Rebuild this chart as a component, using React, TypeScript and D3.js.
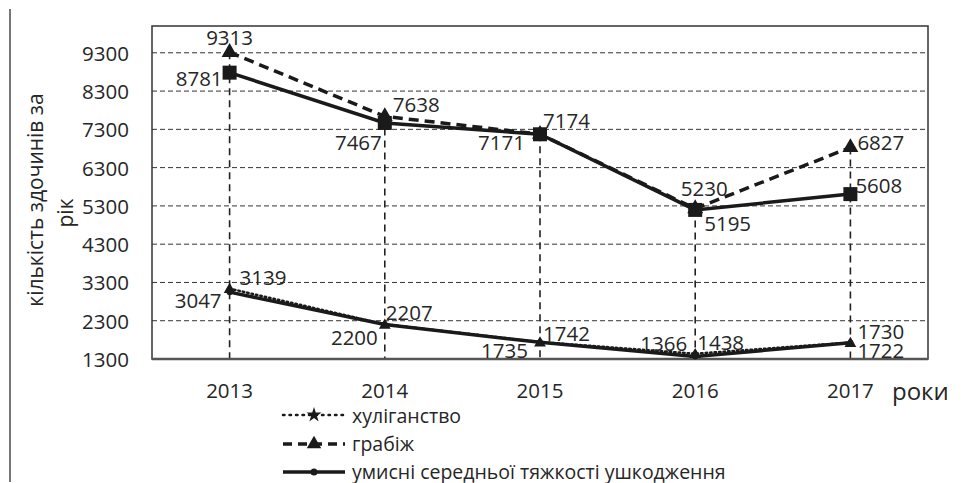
import React from "react";
import * as d3 from "d3";

const years = ["2013", "2014", "2015", "2016", "2017"];
const robbery = [9313, 7638, 7174, 5230, 6827];
const upperSolid = [8781, 7467, 7171, 5195, 5608];
const hooliganism = [3139, 2207, 1742, 1438, 1730];
const injuries = [3047, 2200, 1735, 1366, 1722];
const yTicks = [1300, 2300, 3300, 4300, 5300, 6300, 7300, 8300, 9300];
const legendNames = ["хуліганство", "грабіж", "умисні середньої тяжкості ушкодження"];

// label placement offsets [dx, dy, anchor]
const robberyLbl: [number, number, string][] = [[0, -15, "middle"], [8, -12, "start"], [3, -14, "start"], [9, -21, "middle"], [7, -5, "start"]];
const upperLbl: [number, number, string][] = [[-7, 5, "end"], [-3, 19, "end"], [-15, 8, "end"], [9, 13, "start"], [5, -9, "start"]];
const hoolLbl: [number, number, string][] = [[10, -12, "start"], [1, -12, "start"], [3, -9, "start"], [2, -12, "start"], [7, -12, "start"]];
const injLbl: [number, number, string][] = [[-8, 8, "end"], [-7, 12, "end"], [-12, 8, "end"], [-8, -13, "end"], [7, 7, "start"]];

const W = 970, H = 483;
const FONT = "'Open Sans', sans-serif";
const TXT = "#262626";
const INK = "#1a1a1a";
const FS = 20.5;

export default function App() {
  const left = 152, right = 928, top = 26, bottom = 359;
  const x = d3.scaleBand().domain(years).range([left, right]);
  const cx = (y: string) => (x(y) as number) + x.bandwidth() / 2;
  const y = d3.scaleLinear().domain([1300, 10000]).range([bottom, top]);
  const line = d3.line<number>().x((_, i) => cx(years[i])).y((d) => y(d));

  const tri = d3.symbol().type(d3.symbolTriangle);
  const star = d3.symbol().type(d3.symbolStar);

  const labels = (vals: number[], pl: [number, number, string][], key: string) =>
    vals.map((v, i) => (
      <text key={key + i} x={cx(years[i]) + pl[i][0]} y={y(v) + pl[i][1]} textAnchor={pl[i][2] as any}
        dominantBaseline="central" fontSize={FS} fill={TXT} fontFamily={FONT}>{v}</text>
    ));

  const maxes = years.map((_, i) => Math.max(robbery[i], upperSolid[i], hooliganism[i], injuries[i]));

  return (
    <svg width={W} height={H} style={{ position: "absolute", left: 0, top: 0, background: "#fff" }}>
      <line x1={10} x2={10} y1={9} y2={482} stroke="#777" strokeWidth={2} />
      {/* horizontal grid */}
      {yTicks.slice(1).map((t) => (
        <line key={"g" + t} x1={left} x2={right} y1={y(t)} y2={y(t)} stroke="#333" strokeWidth={1} strokeDasharray="5,3" />
      ))}
      {/* drop lines */}
      {years.map((yr, i) => (
        <line key={"d" + yr} x1={cx(yr)} x2={cx(yr)} y1={y(maxes[i])} y2={bottom} stroke="#222" strokeWidth={1.6} strokeDasharray="7,5" />
      ))}
      {/* plot border */}
      <rect x={left} y={top} width={right - left} height={bottom - top} fill="none" stroke="#333" strokeWidth={1.5} />
      <line x1={left} x2={right} y1={bottom} y2={bottom} stroke="#555" strokeWidth={2.5} />
      {/* y ticks */}
      {yTicks.map((t) => (
        <text key={"t" + t} x={129} y={y(t)} textAnchor="end" dominantBaseline="central" fontSize={FS} fill={TXT} fontFamily={FONT}>{t}</text>
      ))}
      {/* x labels */}
      {years.map((yr) => (
        <text key={"x" + yr} x={cx(yr)} y={390} textAnchor="middle" dominantBaseline="central" fontSize={FS} fill={TXT} fontFamily={FONT}>{yr}</text>
      ))}
      <text x={892} y={390} dominantBaseline="central" fontSize={24} fill={TXT} fontFamily={FONT}>роки</text>
      {/* y title */}
      <text transform={`translate(35,200) rotate(-90)`} textAnchor="middle" dominantBaseline="central" fontSize={21} fill={TXT} fontFamily={FONT}>кількість здочинів за</text>
      <text transform={`translate(65,213) rotate(-90)`} textAnchor="middle" dominantBaseline="central" fontSize={21} fill={TXT} fontFamily={FONT}>рік</text>

      {/* lines */}
      <path d={line(robbery) as string} fill="none" stroke={INK} strokeWidth={3.5} strokeDasharray="10,6" />
      <path d={line(upperSolid) as string} fill="none" stroke={INK} strokeWidth={3.5} />
      <path d={line(hooliganism) as string} fill="none" stroke={INK} strokeWidth={2.5} strokeDasharray="1.5,3" strokeLinecap="round" />
      <path d={line(injuries) as string} fill="none" stroke={INK} strokeWidth={3.5} />

      {/* markers */}
      {robbery.map((v, i) => (
        <path key={"rm" + i} d={tri.size(110)() as string} transform={`translate(${cx(years[i])},${y(v)})`} fill={INK} />
      ))}
      {upperSolid.map((v, i) => (
        <rect key={"um" + i} x={cx(years[i]) - 7} y={y(v) - 7} width={14} height={14} fill={INK} />
      ))}
      {injuries.map((v, i) => (
        <circle key={"im" + i} cx={cx(years[i])} cy={y(v)} r={3} fill={INK} />
      ))}
      {hooliganism.map((v, i) => (
        <path key={"hm" + i} d={tri.size(60)() as string} transform={`translate(${cx(years[i])},${y(v) + 1})`} fill={INK} />
      ))}

      {/* data labels */}
      {labels(robbery, robberyLbl, "rl")}
      {labels(upperSolid, upperLbl, "ul")}
      {labels(hooliganism, hoolLbl, "hl")}
      {labels(injuries, injLbl, "il")}

      {/* legend */}
      <g>
        <line x1={283} x2={345} y1={415} y2={415} stroke={INK} strokeWidth={2.5} strokeDasharray="1.5,5" strokeLinecap="round" />
        <path d={star.size(70)() as string} transform="translate(314,415)" fill={INK} />
        <text x={352} y={415} dominantBaseline="central" fontSize={19.5} fill={TXT} fontFamily={FONT}>{legendNames[0]}</text>

        <line x1={283} x2={345} y1={444} y2={444} stroke={INK} strokeWidth={3.5} strokeDasharray="9,6" />
        <path d={tri.size(90)() as string} transform="translate(314,444)" fill={INK} />
        <text x={352} y={443} dominantBaseline="central" fontSize={19.5} fill={TXT} fontFamily={FONT}>{legendNames[1]}</text>

        <line x1={283} x2={345} y1={472} y2={472} stroke={INK} strokeWidth={3.5} />
        <circle cx={314} cy={472} r={3.5} fill={INK} />
        <text x={352} y={471} dominantBaseline="central" fontSize={19.5} fill={TXT} fontFamily={FONT}>{legendNames[2]}</text>
      </g>
    </svg>
  );
}
